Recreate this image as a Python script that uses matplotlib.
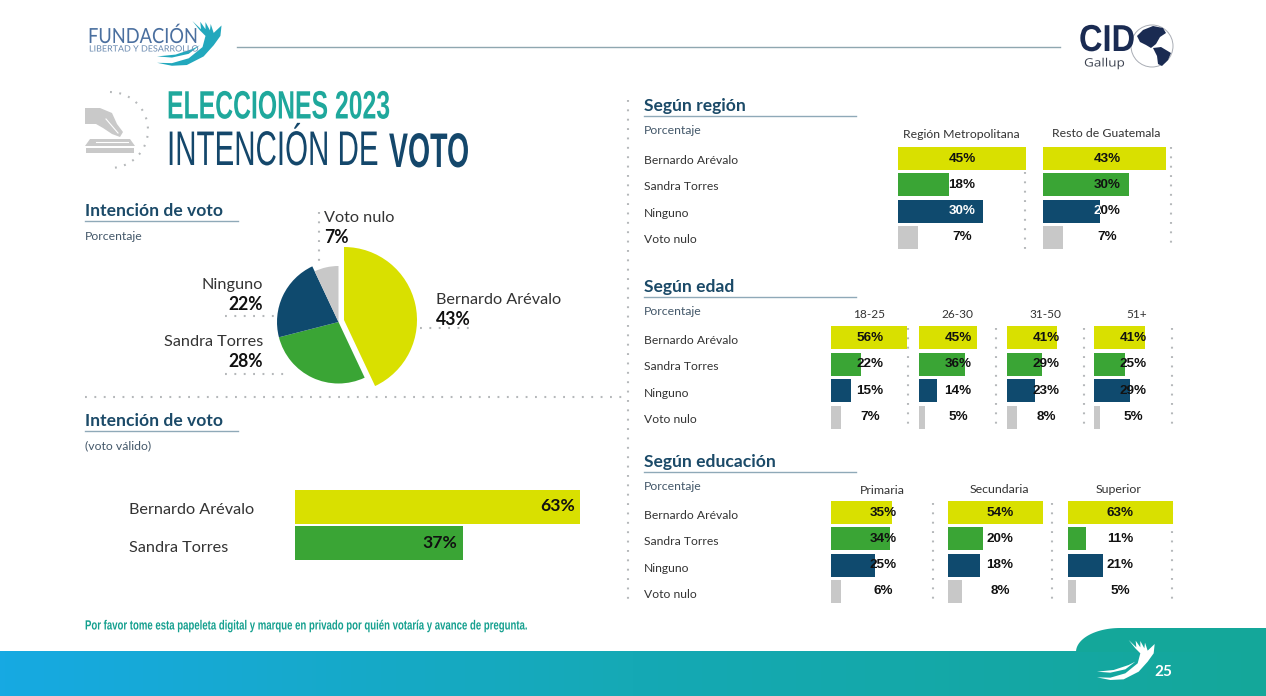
import numpy as np
import matplotlib
matplotlib.use('Agg')
import matplotlib.pyplot as plt
from matplotlib.colors import LinearSegmentedColormap
from matplotlib.patches import Circle, Polygon
from matplotlib.patheffects import AbstractPathEffect
from matplotlib.transforms import Affine2D, Bbox

# Data
candidates = ['Bernardo Arévalo', 'Sandra Torres', 'Ninguno', 'Voto nulo']
pie_values = [43, 28, 22, 7]
valid_names = ['Bernardo Arévalo', 'Sandra Torres']
valid_values = [63, 37]

region_names = ['Región Metropolitana', 'Resto de Guatemala']
region_metro = [45, 18, 30, 7]
region_resto = [43, 30, 20, 7]

age_names = ['18-25', '26-30', '31-50', '51+']
age_18 = [56, 22, 15, 7]
age_26 = [45, 36, 14, 5]
age_31 = [41, 29, 23, 8]
age_51 = [41, 25, 29, 5]

edu_names = ['Primaria', 'Secundaria', 'Superior']
edu_pri = [35, 34, 25, 6]
edu_sec = [54, 20, 18, 8]
edu_sup = [63, 11, 21, 5]

YELLOW = '#d9e000'
GREEN = '#3aa535'
NAVY = '#0f4a6e'
GRAY = '#c8c8c8'
TEAL = '#14a79a'
colors = [YELLOW, GREEN, NAVY, GRAY]
W, H = 1266, 696

fig = plt.figure(figsize=(W / 100, H / 100), dpi=100)
bg = fig.add_axes([0, 0, 1, 1])
bg.set_xlim(0, W)
bg.set_ylim(H, 0)
bg.axis('off')


class Squeeze(AbstractPathEffect):
    # narrows the glyphs sideways, there is no really condensed font installed
    def __init__(self, sx):
        super().__init__()
        self.sx = sx

    def draw_path(self, renderer, gc, tpath, affine, rgbFace=None):
        renderer.draw_path(gc, tpath, Affine2D().scale(self.sx, 1) + affine, rgbFace)


def fit_text(s, x, y, width, **kw):
    t = bg.text(x, y, s, ha='left', va='center', **kw)
    full = t.get_window_extent
    w = full(fig.canvas.get_renderer()).width
    sx = width / w
    t.set_path_effects([Squeeze(sx)])

    # report the box that is really drawn
    def drawn_extent(renderer=None, dpi=None):
        bb = full(renderer, dpi)
        return Bbox.from_extents(bb.x0, bb.y0, bb.x0 + bb.width * sx, bb.y1)

    t.get_window_extent = drawn_extent
    return t


def label(s, x, y, size=8.7, ha='left', color='#333333', weight='normal'):
    return bg.text(x, y + 1.2, s, fontsize=size, ha=ha, va='center', color=color,
                   family='Lato', fontweight=weight)


def heading(s, x, y, x_end, sub=None):
    label(s, x, y - 0.4, size=12.6, color='#1b4a68', weight='bold')
    bg.plot([x, x_end], [y + 11, y + 11], color='#8fa9b8', lw=1)
    if sub:
        label(sub, x, y + 25, size=8.8, color='#44586a')


def dotted(xs, ys):
    bg.plot(xs, ys, color='#b5b8ba', lw=1.5, ls=(0, (0.9, 3.6)))


def panel(vals, x0, y0, y1, scale, xc, white_navy=False):
    # four horizontal bars, x axis in percent points
    pitch = (y1 - y0 + 3.2) / 4
    top = y0 - 1.6
    width = 1200 - x0
    ax = fig.add_axes([x0 / W, 1 - (top + 4 * pitch) / H, width / W, 4 * pitch / H])
    ax.set_xlim(0, width / scale)
    ax.set_ylim(3.5, -0.5)
    ax.axis('off')
    bars = ax.barh(range(4), vals, height=0.88, color=colors, zorder=2)
    lx = (xc - x0) / scale
    for i, v in enumerate(vals):
        # on the region panels the navy bar hides the black text, white goes on top
        z = 1 if (white_navy and i == 2) else 3
        ax.text(lx, i, f'{v}%', ha='center', va='center', fontsize=9.7, zorder=z,
                fontweight='bold', family='Liberation Sans', color='#111111')
    if white_navy:
        t = ax.text(lx, 2, f'{vals[2]}%', ha='center', va='center', fontsize=9.7, zorder=3,
                    fontweight='bold', family='Liberation Sans', color='white')
        t.set_clip_on(True)
        t.set_clip_path(bars[2])
    return ax


# Footer band
band = LinearSegmentedColormap.from_list('band', ['#17a9e2', '#15a9b5', TEAL])
bg.imshow(np.linspace(0, 1, 256).reshape(1, -1), cmap=band, aspect='auto',
          extent=[0, W, 696, 651], zorder=1)
bg.set_xlim(0, W)
bg.set_ylim(H, 0)
tt = np.linspace(0, 1, 30)
tab_x = 1076 + 44 * (1 - np.cos(tt * np.pi / 2))
tab_y = 652 - 24 * np.sin(tt * np.pi / 2)
bg.add_patch(Polygon(np.r_[np.c_[tab_x, tab_y], [[W, 628], [W, 652]]], color=TEAL, lw=0, zorder=1))

# Bird shape used by both logos
wing = np.array([(205, 60), (228, 82), (226, 62), (240, 82), (240, 63), (252, 85), (254, 68),
                 (262, 92), (283, 72), (280, 100), (262, 125), (235, 155), (190, 178),
                 (150, 180), (110, 172), (150, 173), (195, 160), (232, 130), (240, 100), (225, 85)], float)
wing2 = np.array([(110, 155), (160, 150), (205, 135), (225, 125), (195, 148), (150, 158)], float)


def bird(x, y, k, color, z=3):
    for shape in (wing, wing2):
        pts = (shape - [110, 60]) * k + [x, y]
        bg.add_patch(Polygon(pts, color=color, lw=0, zorder=z))


bird(1097, 640, 1 / 3, 'white')
bg.text(1163, 672, '25', color='white', fontsize=11, fontweight='bold', family='Lato',
        ha='center', va='center', zorder=3)
bird(157, 21, 0.373, '#22a8bd')

# Header
fit_text('FUNDACIÓN', 88, 37, 110, fontsize=15, color='#4a6f9f', family='Lato')
fit_text('LIBERTAD Y DESARROLLO', 89, 49, 109, fontsize=6.2, color='#6a8ab0', family='Lato')
bg.plot([237, 1060], [47, 47], color='#8fa7b0', lw=1)

fit_text('CID', 1079, 41, 56, fontsize=27, color='#1a2b52', fontweight='bold', family='Liberation Sans')
fit_text('Gallup', 1084, 63, 41, fontsize=8.3, color='#3c4250', family='Open Sans')
bg.add_patch(Circle((1152, 46), 21, fc='white', ec='#a9adb5', lw=0.7, zorder=2))
north = [(1137, 36), (1143, 30), (1153, 26), (1163, 28), (1166, 33), (1160, 37), (1156, 44),
         (1151, 48), (1146, 45), (1140, 42)]
south = [(1153, 48), (1161, 47), (1171, 53), (1168, 60), (1162, 66), (1158, 64), (1157, 56)]
bg.add_patch(Polygon(north, color='#1a2b52', lw=0, zorder=3))
bg.add_patch(Polygon(south, color='#1a2b52', lw=0, zorder=3))

# Title
fit_text('ELECCIONES 2023', 167, 107.5, 223, fontsize=28.5, color='#1fa89c', fontweight='bold',
         family='Liberation Sans')
fit_text('INTENCIÓN DE', 167, 152.5, 212, fontsize=35, color='#14476b', family='Liberation Sans')
fit_text('VOTO', 389, 154.5, 80, fontsize=35, color='#14476b', fontweight='bold', family='Liberation Sans')

# Ballot icon
icon = [[(85, 108), (100, 108), (112, 113), (117, 124), (123, 132), (120, 137), (112, 134),
         (103, 128), (96, 124), (85, 124)],
        [(98, 139), (130, 139), (135, 146), (85, 146), (90, 139)],
        [(86, 148), (134, 148), (134, 153), (86, 153)]]
for poly in icon:
    bg.add_patch(Polygon(poly, color='#c9c9c9', lw=0))
bg.plot([106, 118], [119, 133], color='white', lw=0.8)
bg.plot([96, 128], [142, 142], color='white', lw=0.8)
ang = np.linspace(-np.pi / 2, np.pi / 2, 40)
dotted(110 + 38 * np.cos(ang), 130 + 38 * np.sin(ang))

# Pie, three radii like the original
heading('Intención de voto', 85, 210, 238, 'Porcentaje')
pie_ax = fig.add_axes([238 / W, 1 - 422 / H, 200 / W, 200 / H])
for r, center, keep in [(73, (6, 2), [0]), (61.5, (0.5, 0), [1, 2]), (56, (0.5, 0), [3])]:
    wedge_cols = [colors[i] if i in keep else 'none' for i in range(4)]
    pie_ax.pie(pie_values, colors=wedge_cols, startangle=90, counterclock=False,
               radius=r, center=center, wedgeprops={'lw': 0})
pie_ax.set_xlim(-100, 100)
pie_ax.set_ylim(-100, 100)
pie_ax.set_aspect('equal')

dotted([319, 319], [212, 265])
dotted([225, 275], [316, 316])
dotted([225, 285], [374, 374])
dotted([420, 474], [328, 328])
pie_pos = [(436, 299, 'left'), (263, 341, 'right'), (263, 284, 'right'), (324, 217, 'left')]
for name, v, (x, y, ha) in zip(candidates, pie_values, pie_pos):
    label(name, x, y, size=11.7, ha=ha)
    label(f'{v}%', x, y + 19, size=12.7, ha=ha, color='#111111', weight='bold')

dotted([85, 625], [397, 397])

# Valid vote
heading('Intención de voto', 85, 420, 238, '(voto válido)')
vax = fig.add_axes([295 / W, 1 - 561.5 / H, 320 / W, 73 / H])
vax.set_xlim(0, 320 / 4.53)
vax.set_ylim(1.5, -0.5)
vax.axis('off')
vax.barh(range(2), valid_values, height=0.92, color=colors[:2])
for i, v in enumerate(valid_values):
    vax.text(v - 1.3, i - 0.01, f'{v}%', ha='right', va='center', fontsize=12.6,
             fontweight='bold', family='Lato', color='#111111')
for name, y in zip(valid_names, [508.5, 546.5]):
    label(name, 129, y, size=11.7)

# Right column
dotted([628, 628], [100, 604])
for title, y in [('Según región', 105), ('Según edad', 286), ('Según educación', 461)]:
    heading(title, 644, y, 856)
    label('Porcentaje', 644, y + 24.5, size=8.8, color='#44586a')
for ys in ([159.5, 185.5, 212.5, 238.5], [339.5, 365.5, 392.5, 418.5], [514.5, 540.5, 567.5, 593.5]):
    for name, y in zip(candidates, ys):
        label(name, 644, y, size=8.7)

# Region panels
panel(region_metro, 898, 147, 249, 2.84, 962, white_navy=True)
panel(region_resto, 1043, 147, 249, 2.87, 1107, white_navy=True)
for name, x, y in zip(region_names, [961, 1106], [133, 132]):
    label(name, x, y, size=8.85, ha='center')
dotted([1025, 1025], [172, 250])
dotted([1171, 1171], [147, 250])

# Age panels
age_vals = [age_18, age_26, age_31, age_51]
for vals, x0, scale, xc in zip(age_vals, [831, 919, 1007, 1094], [1.36, 1.28, 1.22, 1.25],
                               [870, 958, 1046, 1133]):
    panel(vals, x0, 326, 429, scale, xc)
for name, x in zip(age_names, [869, 957, 1045, 1137]):
    label(name, x, 313, size=8.6, ha='center')
for x in [908, 996, 1084, 1172]:
    dotted([x, x], [328, 430])

# Education panels
edu_vals = [edu_pri, edu_sec, edu_sup]
for vals, x0, scale, xc in zip(edu_vals, [831, 948, 1068], [1.75, 1.76, 1.67], [883.5, 1000, 1120]):
    panel(vals, x0, 501, 603, scale, xc)
for name, x, y in zip(edu_names, [882, 999, 1119], [489, 488, 488]):
    label(name, x, y, size=8.9, ha='center')
for x in [933, 1052, 1172]:
    dotted([x, x], [503, 605])

fit_text('Por favor tome esta papeleta digital y marque en privado por quién votaría y avance de pregunta.',
         85, 626.5, 443, fontsize=9.6, color='#15a08f', fontweight='bold', family='Liberation Sans')

fig.savefig('out.png', dpi=100)
